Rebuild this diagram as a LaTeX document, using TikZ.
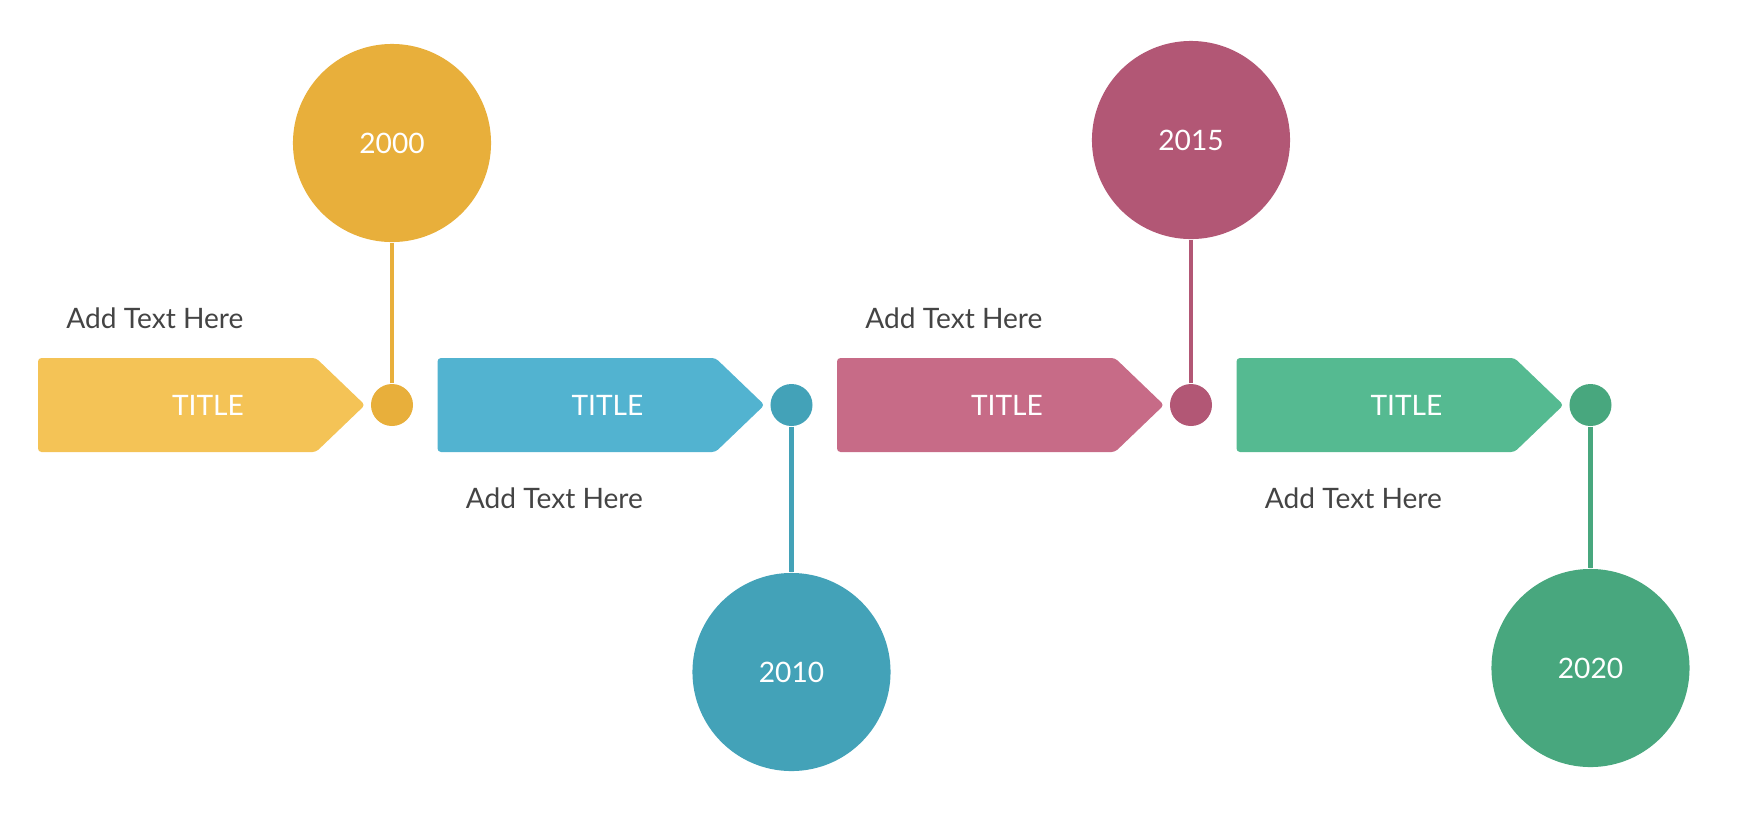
\documentclass[tikz,border=0pt]{standalone}
\usepackage{fontspec}
\setmainfont{Lato}
\usepackage{xcolor}
\usetikzlibrary{positioning}

\definecolor{yellowbox}{HTML}{F4C356}
\definecolor{yellowdark}{HTML}{E8AF3B}
\definecolor{bluebox}{HTML}{52B3D0}
\definecolor{bluedark}{HTML}{43A2B8}
\definecolor{pinkbox}{HTML}{C76B87}
\definecolor{pinkdark}{HTML}{B25775}
\definecolor{greenbox}{HTML}{55BA91}
\definecolor{greendark}{HTML}{48A77E}
\definecolor{textgray}{HTML}{444444}

\begin{document}
\begin{tikzpicture}[
    x=0.01cm, y=-0.01cm,
    year/.style={circle, minimum size=1.98cm, inner sep=0pt, text=white, font=\fontsize{8}{10}\selectfont},
    dot/.style={circle, minimum size=0.42cm, inner sep=0pt},
    title/.style={text=white, font=\fontsize{8}{10}\selectfont},
    note/.style={text=textgray, font=\fontsize{8}{10}\selectfont, anchor=west},
    stem/.style={line width=1.3pt}
]
\useasboundingbox (0,0) rectangle (1750,814);

% arrow boxes, dots and year circles
\foreach \i/\col/\yr/\cy/\ty in {0/yellow/2000/143/318, 1/blue/2010/672/498, 2/pink/2015/140/318, 3/green/2020/668/498} {
  \pgfmathsetmacro{\L}{38+399.5*\i}
  \fill[\col box, rounded corners=1pt] (\L,358) -- (\L+278,358) -- (\L+327,405) -- (\L+278,452) -- (\L,452) -- cycle;
  \node[title] (title\i) at (\L+170,405) {TITLE};
  \node[dot, fill=\col dark] (dot\i) at (\L+354,405) {};
  \node[year, fill=\col dark] (year\i) at (\L+354,\cy) {\yr};
  \draw[stem, \col dark] (dot\i) -- (year\i);
  \node[note] (note\i) at (\L+16,\ty) {Add Text Here};
}

\end{tikzpicture}
\end{document}
